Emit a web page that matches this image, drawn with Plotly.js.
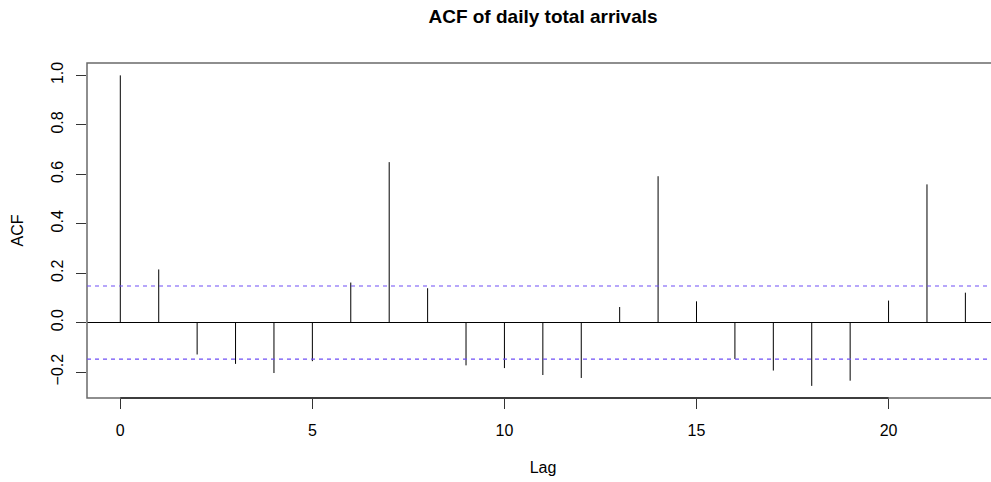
<!DOCTYPE html>
<html>
<head>
<meta charset="utf-8">
<script src="https://cdn.plot.ly/plotly-3.0.1.min.js"></script>
<style>
  html, body { margin: 0; padding: 0; overflow: hidden; background: #fff; }
  #plot { width: 1000px; height: 482px; }
</style>
</head>
<body>
<div id="plot"></div>
<script>
// Autocorrelation of daily total arrivals, lags 0..22
const lags = [0, 1, 2, 3, 4, 5, 6, 7, 8, 9, 10, 11, 12, 13, 14, 15, 16, 17, 18, 19, 20, 21, 22];
const acfValues = [1.000, 0.215, -0.129, -0.167, -0.204, -0.156, 0.162, 0.649, 0.139, -0.173,
                   -0.184, -0.212, -0.224, 0.063, 0.592, 0.086, -0.147, -0.194, -0.256, -0.235,
                   0.089, 0.559, 0.121];
const ciBound = 0.148;           // approximate 95% white-noise band
const xTicks = [0, 5, 10, 15, 20];
const yTicks = [-0.2, 0, 0.2, 0.4, 0.6, 0.8, 1.0];
const yTickText = ["\u22120.2", "0.0", "0.2", "0.4", "0.6", "0.8", "1.0"];

const FONT = '"Liberation Sans", Arial, Helvetica, sans-serif';

// vertical stems from zero to each autocorrelation value
const stemX = [], stemY = [];
lags.forEach((lag, i) => {
  stemX.push(lag, lag, null);
  stemY.push(0, acfValues[i], null);
});

const traces = [{
  x: stemX, y: stemY, type: 'scatter', mode: 'lines',
  line: { color: '#000', width: 1 }, hoverinfo: 'skip', showlegend: false
}];

const bandLine = { color: '#6f4ff5', width: 1.2, dash: '4px,4px' };

const layout = {
  width: 1000, height: 482,
  margin: { l: 87, r: 1, t: 63, b: 84 },
  paper_bgcolor: '#fff', plot_bgcolor: '#fff',
  showlegend: false,
  font: { family: FONT, size: 16, color: '#000' },
  title: {
    text: '<b>ACF of daily total arrivals</b>',
    font: { family: FONT, size: 19, color: '#000' },
    xref: 'paper', x: 0.5, xanchor: 'center',
    yref: 'container', y: 0.967, yanchor: 'middle'
  },
  xaxis: {
    range: [-0.867, 22.875],
    tickmode: 'array', tickvals: xTicks, ticktext: xTicks.map(String),
    ticks: 'outside', ticklen: 10, tickwidth: 1, tickcolor: '#333',
    ticklabelstandoff: 8,
    showgrid: false, zeroline: false, showline: false,
    title: { text: 'Lag', standoff: 23, font: { family: FONT, size: 16 } }
  },
  yaxis: {
    range: [-0.305, 1.05],
    tickmode: 'array', tickvals: yTicks, ticktext: yTickText,
    tickangle: -90,
    ticks: 'outside', ticklen: 10, tickwidth: 1, tickcolor: '#333',
    ticklabelstandoff: 7,
    showgrid: false, showline: false,
    zeroline: true, zerolinecolor: '#000', zerolinewidth: 1,
    title: { text: 'ACF', standoff: 20, font: { family: FONT, size: 16 } }
  },
  shapes: [
    // plot frame
    { type: 'rect', xref: 'paper', yref: 'paper', x0: 0, x1: 1, y0: 0, y1: 1,
      line: { color: '#6a6a6a', width: 1.5 }, layer: 'above' },
    // x-axis line across the labelled ticks
    { type: 'line', xref: 'x', yref: 'paper', x0: xTicks[0], x1: xTicks[xTicks.length - 1], y0: 0, y1: 0,
      line: { color: '#222', width: 1.5 }, layer: 'above' },
    // confidence band
    { type: 'line', xref: 'paper', yref: 'y', x0: 0, x1: 1, y0: ciBound, y1: ciBound, line: bandLine },
    { type: 'line', xref: 'paper', yref: 'y', x0: 0, x1: 1, y0: -ciBound, y1: -ciBound, line: bandLine }
  ]
};

Plotly.newPlot('plot', traces, layout, { staticPlot: true, displayModeBar: false });
</script>
</body>
</html>
